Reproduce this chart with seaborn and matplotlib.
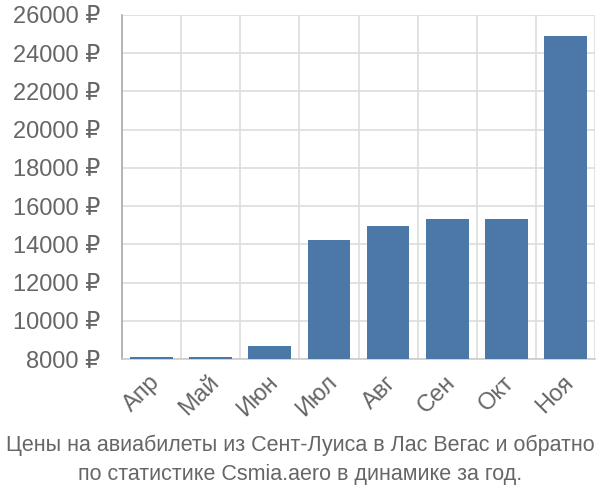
import matplotlib
matplotlib.use("Agg")
import matplotlib.pyplot as plt
import matplotlib.transforms as mtransforms
import seaborn as sns
import pandas as pd

months = ["Апр", "Май", "Июн", "Июл", "Авг", "Сен", "Окт", "Ноя"]
prices = [8130, 8130, 8690, 14220, 14950, 15320, 15320, 24880]
y_ticks = [8000, 10000, 12000, 14000, 16000, 18000, 20000, 22000, 24000, 26000]
title = "Цены на авиабилеты из Сент-Луиса в Лас Вегас и обратно\nпо статистике Csmia.aero в динамике за год."

sns.set_theme(style="white")
plt.rcParams['font.family'] = ['Liberation Sans', 'DejaVu Sans']

df = pd.DataFrame({"month": months, "price": prices})

fig = plt.figure(figsize=(6, 5), dpi=100)
ax = fig.add_axes([0.203, 0.282, 0.789, 0.688])
sns.barplot(data=df, x="month", y="price", color="#4c78a8", saturation=1,
            width=0.72, ax=ax, zorder=3, linewidth=0)

ax.set_ylim(8000, 26000)
ax.set_xlim(-0.5, len(months) - 0.5)
ax.set_yticks(y_ticks)
ax.set_yticklabels([f"{v} ₽" for v in y_ticks])
ax.set_xticks([i - 0.5 for i in range(len(months) + 1)], minor=False)
ax.set_xticklabels([])
ax.set_xticks(range(len(months)), minor=True)
ax.set_xticklabels(months, minor=True, rotation=45, ha="right",
                   rotation_mode="anchor")
ax.grid(True, axis="both", which="major", color="#dddddd", linewidth=1.2, zorder=0)
ax.set_xlabel("")
ax.set_ylabel("")

for s in ["top", "right"]:
    ax.spines[s].set_visible(False)
ax.spines["left"].set_color("#aaaaaa")
ax.spines["bottom"].set_color("#cccccc")
ax.spines["left"].set_linewidth(1.2)
ax.spines["bottom"].set_linewidth(1.2)

ax.tick_params(axis="y", which="major", length=20, color="#dddddd", width=1.2,
               labelsize=17, labelcolor="#666666", pad=-4.5)
ax.tick_params(axis="x", which="major", length=19, color="#dddddd", width=1.2)
ax.tick_params(axis="x", which="minor", length=0, labelsize=17,
               labelcolor="#666666", pad=9)
ax.xaxis.get_major_ticks()[0].tick1line.set_color("#aaaaaa")

offset = mtransforms.ScaledTranslation(-3 / 100, 0, fig.dpi_scale_trans)
for lab in ax.get_xticklabels(minor=True):
    lab.set_transform(lab.get_transform() + offset)

fig.text(0.5, 0.03, title, ha="center", va="bottom", fontsize=15.5,
         color="#666666", linespacing=1.5)

fig.savefig("out.png", dpi=100)
